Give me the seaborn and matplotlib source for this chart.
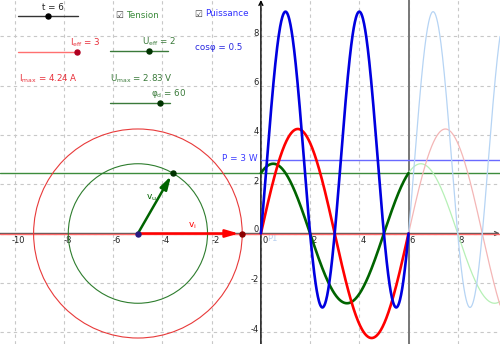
import numpy as np
import pandas as pd
import matplotlib
matplotlib.use("Agg")
import matplotlib.pyplot as plt
from matplotlib.patches import Circle
from matplotlib.lines import Line2D
import seaborn as sns

# ---- values ----
t_now = 6.0
period = 6.0
I_eff = 3
U_eff = 2
phi_deg = 60
cos_phi = 0.5
I_max = 4.24
U_max = 2.83
P_mean = 3
center_x = -5.0
x_ticks = [-10, -8, -6, -4, -2, 2, 4, 6, 8]
y_ticks = [-4, -2, 2, 4, 6, 8]
t_range = (0, 12)
I_range = (0, 3)
U_range = (0, 3)
phi_range = (-90, 90)

sns.set_style("white")
plt.rcParams['font.family'] = ['DejaVu Sans']

W, H = 500, 344
fig = plt.figure(figsize=(W / 100, H / 100), dpi=100)
ax = fig.add_axes([0, 0, 1, 1])
sx, ox = 24.6, 260.9
sy, oy = 24.65, 233.5
ax.set_xlim(-ox / sx, (W - ox) / sx)
ax.set_ylim(-(H - oy) / sy, oy / sy)
xmax = (W - ox) / sx

for s in ax.spines.values():
    s.set_visible(False)
ax.set_xticks([-10, -8, -6, -4, -2, 0, 2, 4, 6, 8])
ax.set_yticks([-4, -2, 0, 2, 4, 6, 8])
ax.tick_params(length=0, labelbottom=False, labelleft=False)
ax.grid(True, ls=(0, (3, 3)), color="#c8c8c8", lw=0.8)
ax.set_axisbelow(True)

omega = 2 * np.pi / period
phi = np.deg2rad(phi_deg)

# axes
ax.annotate("", xy=(0, oy / sy), xytext=(0, -(H - oy) / sy),
            arrowprops=dict(arrowstyle="->", lw=1, color="black", shrinkA=0, shrinkB=0,
                            mutation_scale=7))
ax.annotate("", xy=(xmax, 0), xytext=(-ox / sx, 0),
            arrowprops=dict(arrowstyle="->", lw=1, color="#555555", shrinkA=0, shrinkB=0,
                            mutation_scale=7))

fs = 6.0
for xv in x_ticks:
    ax.text(xv + 0.15, -0.3, f"{xv}" if xv >= 0 else f"-{abs(xv)}", ha="center", va="center",
            fontsize=fs, color="#222222")
ax.text(0.17, -0.3, "0", ha="center", va="center", fontsize=fs, color="#222222")
for yv in y_ticks:
    ax.text(-0.1, yv + 0.12, f"{yv}" if yv >= 0 else f"-{abs(yv)}", ha="right", va="center",
            fontsize=fs, color="#222222")
ax.text(-0.1, 0.15, "0", ha="right", va="center", fontsize=fs, color="#222222")
ax.text(0.45, -0.22, "P1", ha="center", va="center", fontsize=fs, color="#b8d0f0")

# vertical line at t
ax.axvline(t_now, color="#777777", lw=1.4, zorder=3)

# horizontal lines
u_now = U_max * np.sin(omega * t_now + phi)
i_now = I_max * np.sin(omega * t_now)
ax.axhline(u_now, color="#3c8c3c", lw=1, zorder=3)
ax.axhline(i_now, color="#ff6a6a", lw=1, zorder=3)
ax.plot([0, xmax], [P_mean, P_mean], color="#6a6aff", lw=1, zorder=3)
ax.text(-0.15, P_mean + 0.05, f"P = {P_mean} W", ha="right", va="center", fontsize=fs + 0.4,
        color="#3a3aff")

# curves
t_bold = np.linspace(0, t_now, 400)
t_fade = np.linspace(t_now, xmax, 300)


def frame(t):
    i = I_max * np.sin(omega * t)
    u = U_max * np.sin(omega * t + phi)
    return pd.DataFrame({"t": t, "i": i, "u": u, "p": u * i})


d_b = frame(t_bold)
d_f = frame(t_fade)
kw = dict(ax=ax, sort=False, estimator=None, legend=False)
sns.lineplot(data=d_f, x="t", y="u", color="#b6f0b6", lw=0.9, **kw)
sns.lineplot(data=d_f, x="t", y="i", color="#f4b6b6", lw=0.9, **kw)
sns.lineplot(data=d_f, x="t", y="p", color="#b6d4f4", lw=0.9, **kw)
sns.lineplot(data=d_b, x="t", y="u", color="#006400", lw=1.9, **kw)
sns.lineplot(data=d_b, x="t", y="i", color="#ff0000", lw=1.9, **kw)
sns.lineplot(data=d_b, x="t", y="p", color="#0000e0", lw=1.9, **kw)
for l in ax.lines[-6:]:
    l.set_zorder(4)

# phasor diagram
ax.add_patch(Circle((center_x, 0), I_max, fill=False, ec="#e83a3a", lw=0.8, zorder=3))
ax.add_patch(Circle((center_x, 0), U_max, fill=False, ec="#2e7d2e", lw=0.8, zorder=3))
vi_end = (center_x + I_max * np.cos(omega * t_now), I_max * np.sin(omega * t_now))
vu_end = (center_x + U_max * np.cos(omega * t_now + phi), U_max * np.sin(omega * t_now + phi))
arrow_style = "-|>,head_length=1.1,head_width=0.32"
ax.annotate("", xy=vi_end, xytext=(center_x, 0),
            arrowprops=dict(arrowstyle=arrow_style, color="#ff0000", lw=1.8, mutation_scale=7,
                            shrinkA=0, shrinkB=2.5), zorder=5)
ax.annotate("", xy=vu_end, xytext=(center_x, 0),
            arrowprops=dict(arrowstyle=arrow_style, color="#006400", lw=1.8, mutation_scale=7,
                            shrinkA=0, shrinkB=2.5), zorder=5)
ax.scatter([vi_end[0]], [vi_end[1]], s=13, color="#8b0000", zorder=6)
ax.scatter([vu_end[0]], [vu_end[1]], s=13, color="#003300", zorder=6)
ax.scatter([center_x], [0], s=13, color="#2a1a80", zorder=6)
ax.text(-4.45, 1.45, r"$\mathregular{v_u}$", color="#006400", fontsize=fs + 0.5, ha="center", va="center")
ax.text(-2.8, 0.3, r"$\mathregular{v_i}$", color="#ff0000", fontsize=fs + 0.5, ha="center", va="center")


# ---- widgets (figure pixel coordinates) ----
def fp(x, y):
    return x / W, 1 - y / H


def slider(x0, x1, y, val, rng, lc, dc):
    a, b = fp(x0, y), fp(x1, y)
    fig.add_artist(Line2D([a[0], b[0]], [a[1], b[1]], color=lc, lw=1, transform=fig.transFigure))
    frac = (val - rng[0]) / (rng[1] - rng[0])
    xd = x0 + frac * (x1 - x0)
    d = fp(xd, y)
    fig.add_artist(Line2D([d[0]], [d[1]], marker="o", ms=3.6, color=dc, transform=fig.transFigure))


def ftxt(x, y, s, c, ha="left"):
    fig.text(*fp(x, y), s, color=c, fontsize=fs + 0.3, ha=ha, va="center")


slider(18, 78, 16, t_now, t_range, "#333333", "black")
ftxt(53, 7, f"t = {t_now:g}", "#222222", ha="center")
ftxt(115, 15, "☑", "#444444")
ftxt(126, 15, "Tension", "#3a8a3a")
ftxt(194, 14, "☑", "#444444")
ftxt(205, 14, "Puissance", "#3030ff")

slider(18, 77, 52, I_eff, I_range, "#ff7070", "#b00020")
ftxt(70, 43, r"$\mathregular{I_{eff}}$ = " + f"{I_eff}", "#e8303a")
slider(110, 168, 51, U_eff, U_range, "#3a7a3a", "#003300")
ftxt(142, 42, r"$\mathregular{U_{eff}}$ = " + f"{U_eff}", "#3a7a3a")
ftxt(195, 48, f"cosφ = {cos_phi}", "#2828e0")
ftxt(19, 79, r"$\mathregular{I_{max}}$ = " + f"{I_max} A", "#e8303a")
ftxt(110, 79, r"$\mathregular{U_{max}}$ = " + f"{U_max} V", "#3a7a3a")
ftxt(151, 93, r"$\mathregular{\varphi_d}$ = " + f"{phi_deg}", "#3a7a3a")
slider(110, 170, 103, phi_deg, phi_range, "#3a7a3a", "#003300")

fig.savefig("out.png", dpi=100)
